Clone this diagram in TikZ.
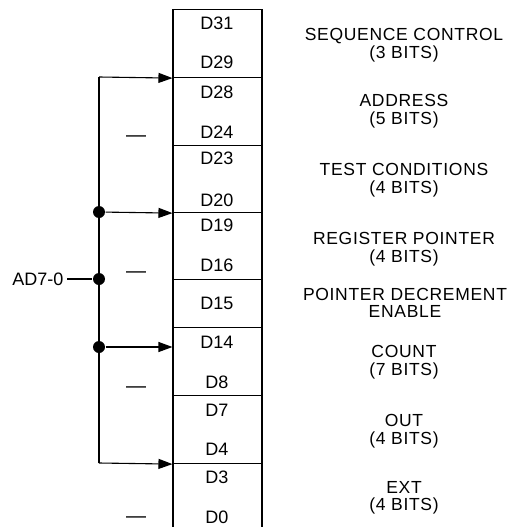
\documentclass[tikz,border=0pt]{standalone}
\usepackage{fontspec}
\setmainfont{Liberation Sans}
\newfontfamily\descfont[LetterSpace=4]{Liberation Sans}
\usetikzlibrary{positioning,arrows.meta}

\begin{document}
\begin{tikzpicture}[x=1pt, y=-1pt,
  >={Triangle[length=14pt,width=10pt]},
  line width=1.1pt,
  every node/.style={font=\fontsize{18}{17}\selectfont, inner sep=0pt},
  field/.style={draw, minimum width=89pt, anchor=north},
  bits/.style={anchor=base},
  desc/.style={align=center, font=\descfont\fontsize{17.5}{17.5}\selectfont},
  dot/.style={circle, fill, minimum size=12pt},
  unused/.style={font=\fontsize{20}{20}\selectfont}]
  \useasboundingbox (0,0) rectangle (512,527);
  % instruction word fields
  \node[field, minimum height=68pt] (seq)  at (217.5,9)   {};
  \node[field, minimum height=68pt] (addr) at (217.5,77)  {};
  \node[field, minimum height=67pt] (tst)  at (217.5,145) {};
  \node[field, minimum height=67pt] (reg)  at (217.5,212) {};
  \node[field, minimum height=48pt] (dec)  at (217.5,279) {};
  \node[field, minimum height=68pt] (cnt)  at (217.5,327) {};
  \node[field, minimum height=68pt] (out)  at (217.5,395) {};
  \node[field, minimum height=80pt] (ext)  at (217.5,463) {};
  % bit numbers
  \node[bits] (b31) at (217,30)  {D31};
  \node[bits] (b29) at (217,69)  {D29};
  \node[bits] (b28) at (217,98)  {D28};
  \node[bits] (b24) at (217,138) {D24};
  \node[bits] (b23) at (217,164) {D23};
  \node[bits] (b20) at (217,206) {D20};
  \node[bits] (b19) at (217,231) {D19};
  \node[bits] (b16) at (217,271) {D16};
  \node[bits] (b15) at (217,309) {D15};
  \node[bits] (b14) at (217,348) {D14};
  \node[bits] (b8)  at (217,388) {D8};
  \node[bits] (b7)  at (217,416) {D7};
  \node[bits] (b4)  at (217,455) {D4};
  \node[bits] (b3)  at (217,483) {D3};
  \node[bits] (b0)  at (217,523) {D0};
  % field descriptions
  \node[desc] (dseq)  at (404,45)  {SEQUENCE CONTROL\\(3 BITS)};
  \node[desc] (daddr) at (404,111) {ADDRESS\\(5 BITS)};
  \node[desc] (dtst)  at (404,180) {TEST CONDITIONS\\(4 BITS)};
  \node[desc] (dreg)  at (404,249) {REGISTER POINTER\\(4 BITS)};
  \node[desc] (ddec)  at (405,303) {POINTER DECREMENT\\ENABLE};
  \node[desc] (dcnt)  at (404,362) {COUNT\\(7 BITS)};
  \node[desc] (dout)  at (404,431) {OUT\\(4 BITS)};
  \node[desc] (dext)  at (404,498) {EXT\\(4 BITS)};
  % bus and junctions
  \coordinate (btop) at (99,77);
  \coordinate (bbot) at (99,463);
  \node[dot] (j1) at (99,212) {};
  \node[dot] (j2) at (99,279) {};
  \node[dot] (j3) at (99,347) {};
  \node[anchor=east, inner xsep=3pt] (ad) at (67,279) {AD7-0};
  % unused time slots
  \node[unused] (u1) at (136,139) {—};
  \node[unused] (u2) at (136,275) {—};
  \node[unused] (u3) at (136,390) {—};
  \node[unused] (u4) at (136,520) {—};
  % connections
  \draw (btop) -- (bbot);
  \draw (ad) -- (j2);
  \draw[->] (btop) -- (seq.south west);
  \draw[->] (j1) -- (tst.south west);
  \draw[->] (j3) -- (j3 -| cnt.west);
  \draw[->] (bbot) -- (out.south west);
\end{tikzpicture}
\end{document}
